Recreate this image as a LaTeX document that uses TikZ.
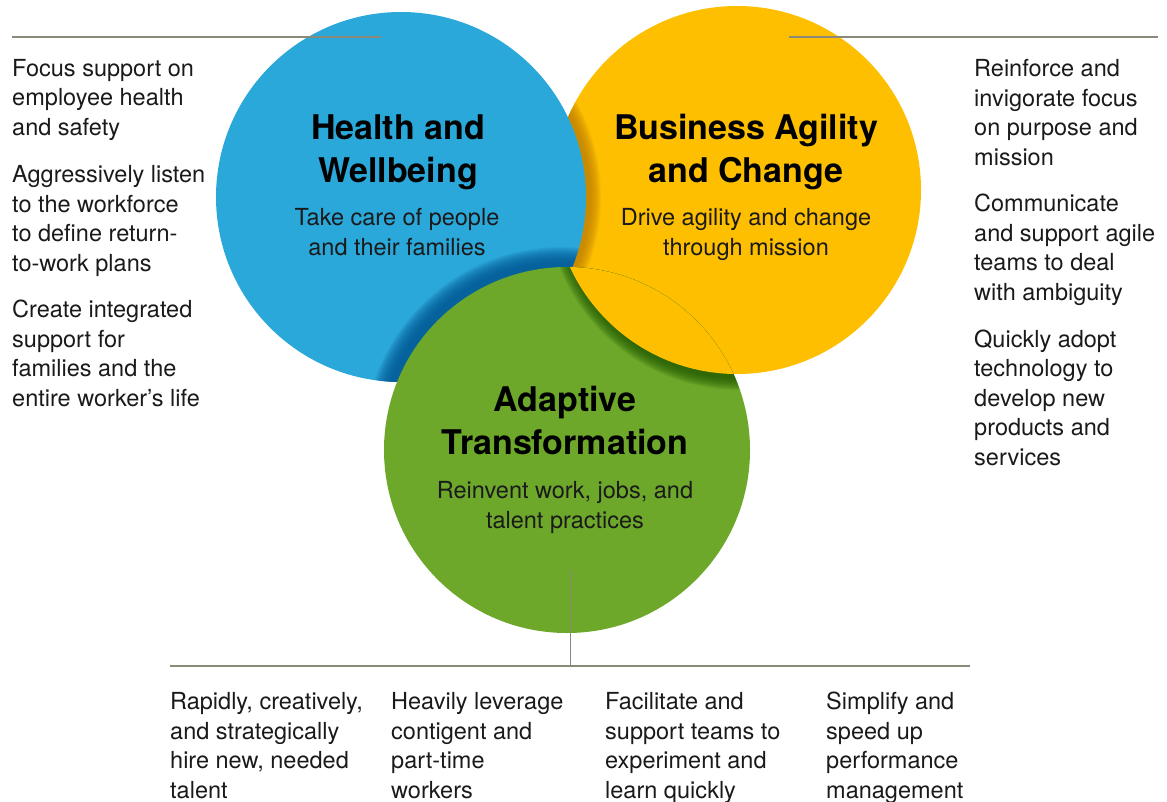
\documentclass[tikz,border=0pt]{standalone}
\usepackage{fontspec}
\usetikzlibrary{calc}
\setmainfont{TeX Gyre Heros}
\definecolor{hwblue}{HTML}{2BA8DA}
\definecolor{hwshade}{HTML}{035894}
\definecolor{bagold}{HTML}{FDBF00}
\definecolor{bashade}{HTML}{BC7C00}
\definecolor{atgreen}{HTML}{6DA82A}
\definecolor{atshade}{HTML}{1E5500}
\definecolor{rulegray}{HTML}{8A8A7A}
\definecolor{txtgray}{HTML}{1A1A1A}
\newcommand\castshade[5]{% center, radius, width, colour, offset
  \foreach \k in {1,...,#3}
    \fill[#4, opacity=0.1] ($(#1)+(#5)$) circle ({#2+\k pt-2pt});}
\tikzset{
  side/.style={anchor=base west, align=left, inner sep=0pt, text=txtgray,
    font=\fontsize{23.5}{29.4}\selectfont},
  title/.style={anchor=base, align=center, inner sep=0pt, text=black,
    font=\fontsize{34}{42.5}\selectfont\bfseries},
  sub/.style={anchor=base, align=center, inner sep=0pt, text=txtgray,
    font=\fontsize{23.5}{30}\selectfont},
  rule/.style={draw=rulegray, line width=1.3pt}
}
\begin{document}
\begin{tikzpicture}[x=1pt, y=-1pt]
\useasboundingbox (0,0) rectangle (1167,801);
\coordinate (chw) at (401,197);
\coordinate (cba) at (737,190);
\coordinate (cat) at (567,450);

% circles, each one lies over the next
\fill[bagold] (cba) circle (184pt);
\begin{scope}
\clip (cba) circle (184pt);
\castshade{chw}{185pt}{12}{bashade}{5,0}
\end{scope}
\fill[hwblue] (chw) circle (185pt);
\begin{scope}
\clip (chw) circle (185pt);
\castshade{cat}{183pt}{16}{hwshade}{-6,-6}
\end{scope}
\fill[atgreen] (cat) circle (183pt);
\begin{scope}
\clip (cat) circle (183pt);
\castshade{cba}{184pt}{12}{atshade}{3,6}
\fill[bagold] (cba) circle (184pt);
\end{scope}

% rules
\coordinate (tl0) at (12,37);
\coordinate (tl1) at (381,37);
\coordinate (tr0) at (789,37);
\coordinate (tr1) at (1158,37);
\coordinate (bl0) at (170,666);
\coordinate (bl1) at (970,666);
\coordinate (bm0) at (570,570);
\coordinate (bm1) at (570,666);
\draw[rule] (tl0) -- (tl1);
\draw[rule] (tr0) -- (tr1);
\draw[rule] (bl0) -- (bl1);
\draw[rule, line width=1pt] (bm0) -- (bm1);

% circle texts (placed at the baseline of the last line)
\node[title] (hwt) at (398,182) {Health and\\Wellbeing};
\node[sub] (hws) at (397,255) {Take care of people\\and their families};
\node[title] (bat) at (746,182) {Business Agility\\and Change};
\node[sub] (bas) at (746,255) {Drive agility and change\\through mission};
\node[title] (att) at (565,454) {Adaptive\\Transformation};
\node[sub] (ats) at (565,528) {Reinvent work, jobs, and\\talent practices};

% left column
\node[side] (hw1) at (12,135) {Focus support on\\employee health\\and safety};
\node[side] (hw2) at (12,271) {Aggressively listen\\to the workforce\\to define return-\\to-work plans};
\node[side] (hw3) at (12,406) {Create integrated\\support for\\families and the\\entire worker’s life};

% right column
\node[side] (ba1) at (974,165) {Reinforce and\\invigorate focus\\on purpose and\\mission};
\node[side] (ba2) at (974,300) {Communicate\\and support agile\\teams to deal\\with ambiguity};
\node[side] (ba3) at (974,465) {Quickly adopt\\technology to\\develop new\\products and\\services};

% bottom row
\node[side] (at1) at (170,798) {Rapidly, creatively,\\and strategically\\hire new, needed\\talent};
\node[side] (at2) at (391,798) {Heavily leverage\\contigent and\\part-time\\workers};
\node[side] (at3) at (605,798) {Facilitate and\\support teams to\\experiment and\\learn quickly};
\node[side] (at4) at (826,798) {Simplify and\\speed up\\performance\\management};

\end{tikzpicture}
\end{document}
